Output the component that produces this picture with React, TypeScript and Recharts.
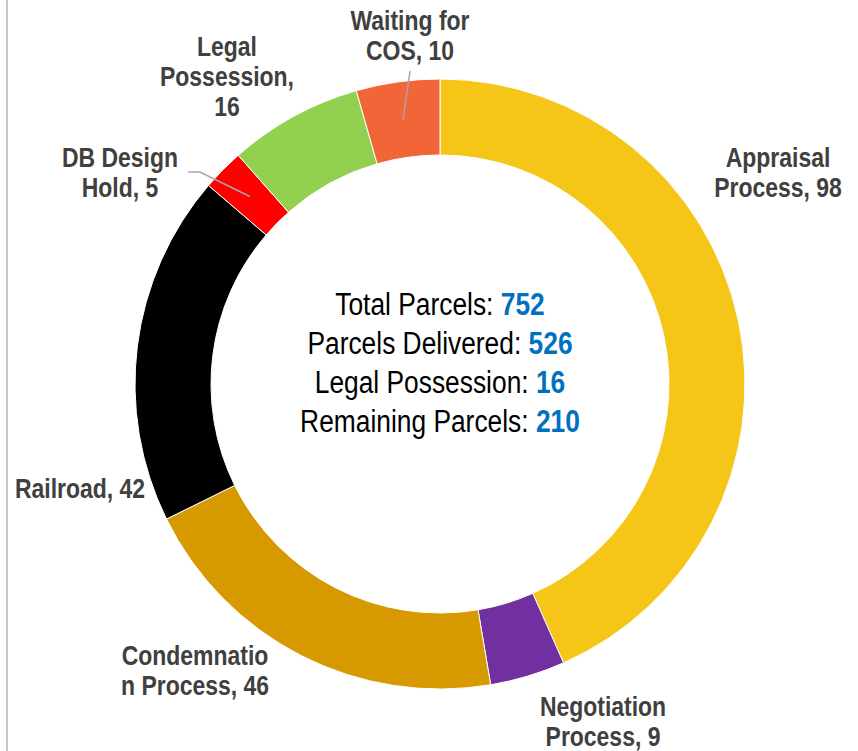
import React from 'react'
import { PieChart, Pie, Cell } from 'recharts'

const CATEGORIES = [
  'Appraisal Process',
  'Negotiation Process',
  'Condemnation Process',
  'Railroad',
  'DB Design Hold',
  'Legal Possession',
  'Waiting for COS',
]
const VALUES = [98, 9, 46, 42, 5, 16, 10]
const COLORS = ['#F5C518', '#7030A0', '#D69A00', '#000000', '#FF0000', '#92D050', '#F26539']

// how each label wraps, as Excel did it
const LABEL_LINES = [
  ['Appraisal', 'Process, {v}'],
  ['Negotiation', 'Process, {v}'],
  ['Condemnatio', 'n Process, {v}'],
  ['Railroad, {v}'],
  ['DB Design', 'Hold, {v}'],
  ['Legal', 'Possession,', '{v}'],
  ['Waiting for', 'COS, {v}'],
]

const SUMMARY_LABELS = ['Total Parcels:', 'Parcels Delivered:', 'Legal Possession:', 'Remaining Parcels:']
const SUMMARY_VALUES = [752, 526, 16, 210]

// label block centres, relative to the pie centre (hand placed in the original)
const LABEL_OFFSETS = [
  [338, -212],
  [163, 337],
  [-245, 286],
  [-360, 104],
  [-320, -212],
  [-213, -308],
  [-30, -349],
]
// leader lines: start point relative to pie centre, optional elbow
const LEADERS: Record<number, number[][]> = {
  4: [[-252, -212], [-240, -212]],
  6: [[-30, -313]],
}

const W = 858
const H = 751
const CX = 440
const CY = 384
const INNER = 229
const OUTER = 305
const FONT = "'Liberation Sans', Arial, sans-serif"
const SQUEEZE = 0.82 // no Arial Narrow here, so squeeze Liberation Sans

const data = CATEGORIES.map((name, i) => ({ name, value: VALUES[i] }))

const RAD = Math.PI / 180

function renderLabel(props: any) {
  const { cx, cy, midAngle, innerRadius, outerRadius, index, value } = props
  const [dx, dy] = LABEL_OFFSETS[index]
  const lines = LABEL_LINES[index].map((l) => l.replace('{v}', String(value)))
  const lh = 30
  const x = cx + dx
  const y0 = cy + dy - ((lines.length - 1) * lh) / 2
  let leader = null
  if (LEADERS[index]) {
    const r = (innerRadius + outerRadius) / 2
    const ex = cx + r * Math.cos(-midAngle * RAD)
    const ey = cy + r * Math.sin(-midAngle * RAD)
    const pts = LEADERS[index].map(([px, py]) => `${cx + px},${cy + py}`)
    pts.push(`${ex},${ey}`)
    leader = <polyline points={pts.join(' ')} fill="none" stroke="#A6A6A6" strokeWidth={1.5} />
  }
  return (
    <g key={`lbl-${index}`}>
      {leader}
      <g transform={`translate(${x} ${y0}) scale(${SQUEEZE} 1)`}>
        <text textAnchor="middle" fill="#404040" fontFamily={FONT} fontWeight="bold" fontSize={28}>
          {lines.map((l, i) => (
            <tspan key={i} x={0} y={i * lh} dominantBaseline="central">
              {l}
            </tspan>
          ))}
        </text>
      </g>
    </g>
  )
}

export default function App() {
  return (
    <div style={{ position: 'absolute', left: 0, top: 0, width: W, height: H, background: '#fff' }}>
      <div style={{ position: 'absolute', left: 6, top: 0, width: 2, height: H, background: '#C8C8C8' }} />
      <PieChart width={W} height={H} margin={{ top: 0, right: 0, bottom: 0, left: 0 }}>
        <Pie
          data={data}
          dataKey="value"
          nameKey="name"
          cx={CX}
          cy={CY}
          innerRadius={INNER}
          outerRadius={OUTER}
          startAngle={90}
          endAngle={-270}
          stroke="#ffffff"
          strokeWidth={1}
          label={renderLabel}
          labelLine={false}
          isAnimationActive={false}
        >
          {data.map((d, i) => (
            <Cell key={d.name} fill={COLORS[i]} />
          ))}
        </Pie>
      </PieChart>
      <div
        style={{
          position: 'absolute',
          left: CX - 220,
          top: CY - 99,
          width: 440,
          textAlign: 'center',
          fontFamily: FONT,
          fontSize: 31,
          lineHeight: '39px',
          color: '#000',
          transform: 'scaleX(0.85)',
        }}
      >
        {SUMMARY_LABELS.map((s, i) => (
          <div key={s}>
            {s} <span style={{ color: '#0070C0', fontWeight: 'bold' }}>{SUMMARY_VALUES[i]}</span>
          </div>
        ))}
      </div>
    </div>
  )
}
